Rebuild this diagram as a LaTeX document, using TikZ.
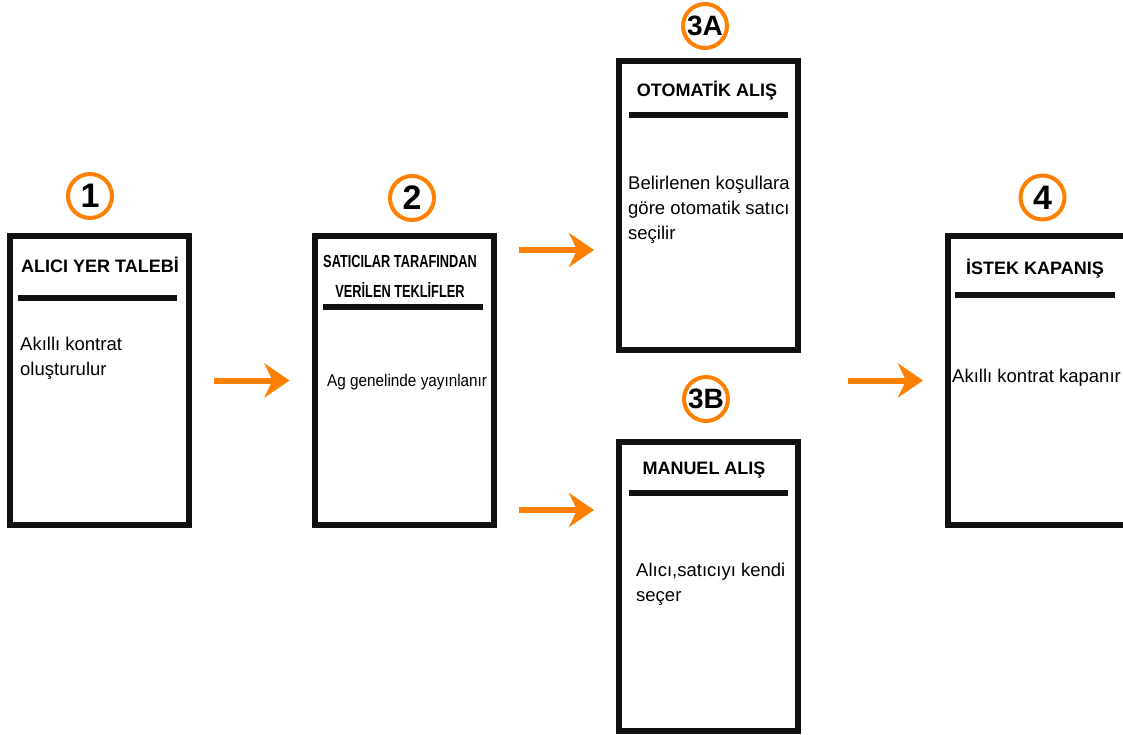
\documentclass[tikz,border=0pt]{standalone}
\usepackage{fontspec}
\setmainfont{Liberation Sans}
\usepackage{xcolor}
\usepackage{tikz}
\usetikzlibrary{arrows.meta}
\definecolor{steporange}{HTML}{FF8000}
\definecolor{boxblack}{HTML}{111111}
\newcommand{\squeezetext}[2]{\scalebox{#1}[1]{#2}}

\begin{document}
\begin{tikzpicture}[
        x=1pt, y=-1pt,
        stage/.style={
            draw=boxblack,
            line width=6pt,
            fill=white,
            minimum width=179pt,
            minimum height=289pt,
            inner sep=0pt
        },
        badge/.style={
            circle,
            draw=steporange,
            line width=4pt,
            fill=white,
            minimum size=44pt,
            inner sep=0pt,
            font=\bfseries\fontsize{34}{34}\selectfont
        },
        badgewide/.style={badge, font=\bfseries\fontsize{28}{28}\selectfont},
        heading/.style={anchor=base, inner sep=0pt, font=\bfseries\fontsize{18}{18}\selectfont},
        body/.style={anchor=north west, inner sep=0pt, align=left, font=\fontsize{18.5}{25}\selectfont},
        rule/.style={line width=6pt, draw=boxblack},
        flow/.style={
            line width=6pt,
            draw=steporange,
            -{Stealth[length=25pt, width=34pt, inset=8pt]},
            shorten <=22pt,
            shorten >=22pt
        }
    ]
        \useasboundingbox[fill=white] (0,0) rectangle (1123,735);

        \node[stage] (box1) at (99.5,380.5) {};
        \node[badge] (num1) at (90,196) {1};
        \node[heading] (head1) at (100,272.7) {ALICI YER TALEBİ};
        \draw[rule] (18,298.3) -- (177,298.3);
        \node[body] (text1) at (20,336.5) {Akıllı kontrat\\oluşturulur};

        \node[stage] (box2) at (404,380.5) {};
        \node[badge] (num2) at (412,198) {2};
        \node[heading, anchor=north, align=center, font=\bfseries\fontsize{17.5}{30}\selectfont] (head2) at (400,255.5)
            {\squeezetext{0.73}{SATICILAR TARAFINDAN}\\\squeezetext{0.73}{VERİLEN TEKLİFLER}};
        \draw[rule] (323,307.3) -- (483,307.3);
        \node[body, font=\fontsize{17}{25}\selectfont] (text2) at (327,373.5) {\squeezetext{0.9}{Ag genelinde yayınlanır}};

        \node[stage] (box3a) at (708.5,205.5) {};
        \node[badgewide] (num3a) at (705,26) {3A};
        \node[heading] (head3a) at (707,96.7) {OTOMATİK ALIŞ};
        \draw[rule] (629,115) -- (788,115);
        \node[body] (text3a) at (628,176) {Belirlenen koşullara\\göre otomatik satıcı\\seçilir};

        \node[stage] (box3b) at (708.5,586) {};
        \node[badgewide] (num3b) at (706,399) {3B};
        \node[heading] (head3b) at (704,474.3) {MANUEL ALIŞ};
        \draw[rule] (629,493.3) -- (788,493.3);
        \node[body] (text3b) at (636,562.7) {Alıcı,satıcıyı kendi\\seçer};

        \node[stage] (box4) at (1037.5,380.5) {};
        \node[badge] (num4) at (1042.5,197.5) {4};
        \node[heading] (head4) at (1035,274.3) {İSTEK KAPANIŞ};
        \draw[rule] (955,295) -- (1115,295);
        \node[body] (text4) at (952,369) {Akıllı kontrat kapanır};

        \coordinate (fork1) at ([yshift=-17pt]box2.north east);
        \coordinate (fork2) at ([yshift=18pt]box2.south east);
        \draw[flow] (box1.east) -- (box2.west);
        \draw[flow] (fork1) -- (box3a.west |- fork1);
        \draw[flow] (fork2) -- (box3b.west |- fork2);
        \draw[flow, shorten <=47pt] (box3a.east |- box4.west) -- (box4.west);
    \end{tikzpicture}
\end{document}
